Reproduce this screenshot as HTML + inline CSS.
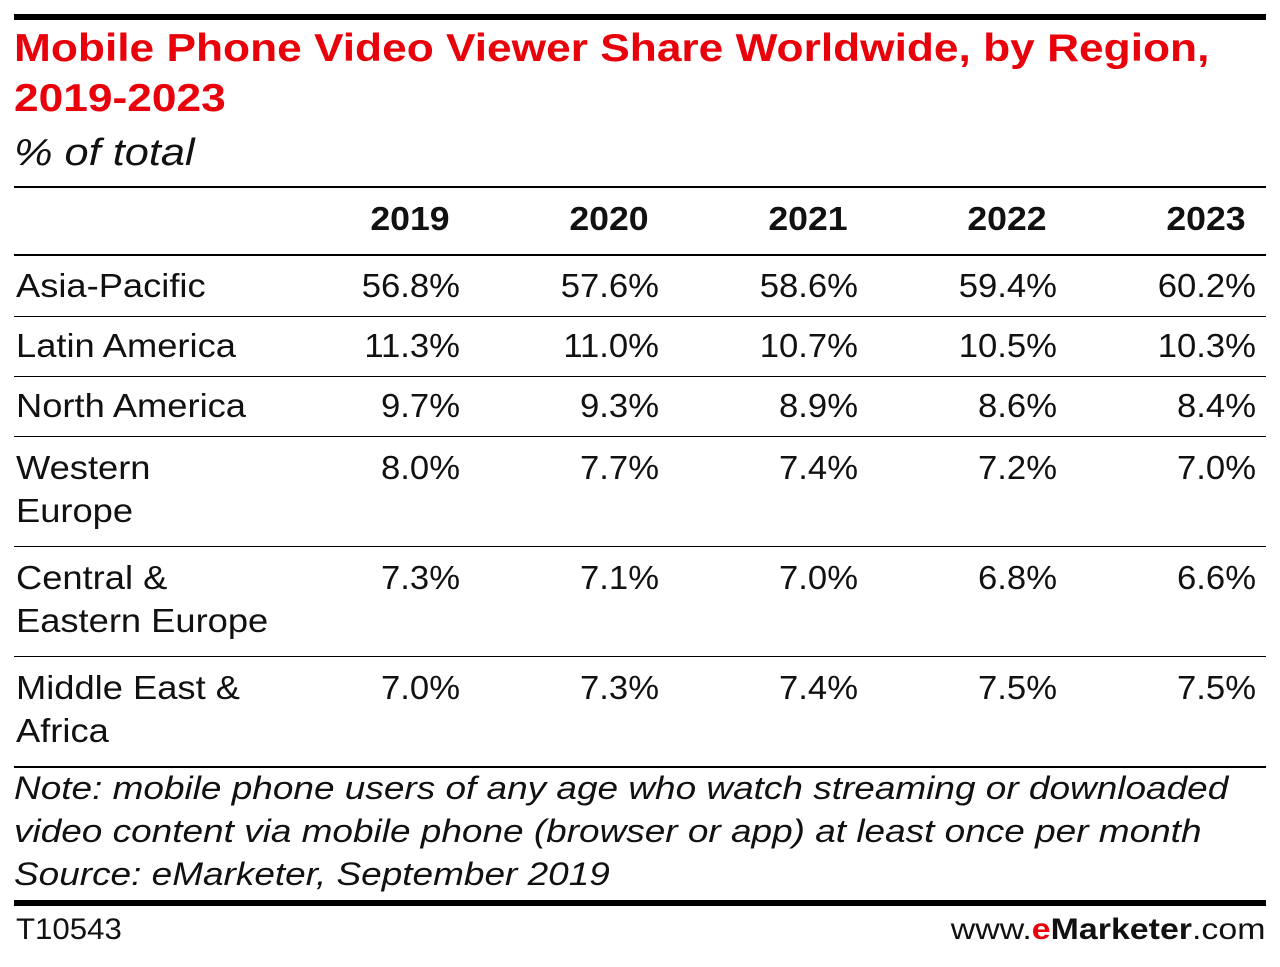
<!DOCTYPE html>
<html><head><meta charset="utf-8"><style>
body{margin:0;width:1280px;height:967px;background:#fff;font-family:"Liberation Sans",sans-serif;position:relative;overflow:hidden;color:#111}
.a{position:absolute;white-space:nowrap}
.hr{position:absolute;left:14px;width:1252px;background:#000}
.title{color:#e8000b;font-weight:bold;font-size:39px;left:14px;line-height:50px;transform:scaleX(1.135);transform-origin:left top}
.c{font-size:33px;line-height:43px}
.lab{transform:scaleX(1.1);transform-origin:left top}
.r{text-align:right;width:150px;transform:scaleX(1.05);transform-origin:right top}
.yr{font-weight:bold;font-size:33px;text-align:center;width:150px;transform:scaleX(1.08)}
.note{font-style:italic;font-size:32px;left:14px;line-height:43px;transform:scaleX(1.155);transform-origin:left top}
</style></head><body>
<div class="hr" style="top:14px;height:6px"></div>
<div class="a title" style="top:24px">Mobile Phone Video Viewer Share Worldwide, by Region,<br>2019-2023</div>
<div class="a" style="left:14px;top:132px;font-style:italic;font-size:38px;transform:scaleX(1.14);transform-origin:left top">% of total</div>
<div class="hr" style="top:186px;height:2px"></div>
<div class="hr" style="top:254px;height:2px"></div>
<div id="tbl"></div>
<div class="a note" style="top:767px">Note: mobile phone users of any age who watch streaming or downloaded<br>video content via mobile phone (browser or app) at least once per month<br>Source: eMarketer, September 2019</div>
<div class="hr" style="top:900px;height:6px"></div>
<div class="a" style="left:16px;top:913px;font-size:30px;transform:scaleX(1.04);transform-origin:left top">T10543</div>
<div class="a" style="right:15px;top:913px;font-size:30px;transform:scaleX(1.13);transform-origin:right top">www.<span style="color:#e8000b;font-weight:bold">e</span><b>Marketer</b>.com</div>
<script>
const years=["2019","2020","2021","2022","2023"];
const regions=[["Asia-Pacific"],["Latin America"],["North America"],["Western","Europe"],["Central &","Eastern Europe"],["Middle East &","Africa"]];
const v2019=[56.8,11.3,9.7,8.0,7.3,7.0];
const v2020=[57.6,11.0,9.3,7.7,7.1,7.3];
const v2021=[58.6,10.7,8.9,7.4,7.0,7.4];
const v2022=[59.4,10.5,8.6,7.2,6.8,7.5];
const v2023=[60.2,10.3,8.4,7.0,6.6,7.5];
const series=[v2019,v2020,v2021,v2022,v2023];
const colRight=[460,659,858,1057,1256];
const rowTop=[264,324,384,446,556,666];
const rowLine=[316,376,436,546,656,766];
const t=document.getElementById('tbl');
years.forEach((y,i)=>{const d=document.createElement('div');d.className='a yr';


d.style.left=(colRight[i]-125)+'px';d.style.top='200px';d.textContent=y;t.appendChild(d);});
regions.forEach((r,j)=>{const d=document.createElement('div');d.className='a c lab';


d.style.left='16px';d.style.top=rowTop[j]+'px';d.innerHTML=r.join('<br>');t.appendChild(d);
series.forEach((s,i)=>{const e=document.createElement('div');e.className='a c r';


e.style.left=(colRight[i]-150)+'px';e.style.top=rowTop[j]+'px';e.textContent=s[j].toFixed(1)+'%';t.appendChild(e);});
const l=document.createElement('div');l.className='hr';


l.style.top=rowLine[j]+'px';l.style.height=(j==5?2:1)+'px';t.appendChild(l);});
</script>
</body></html>
